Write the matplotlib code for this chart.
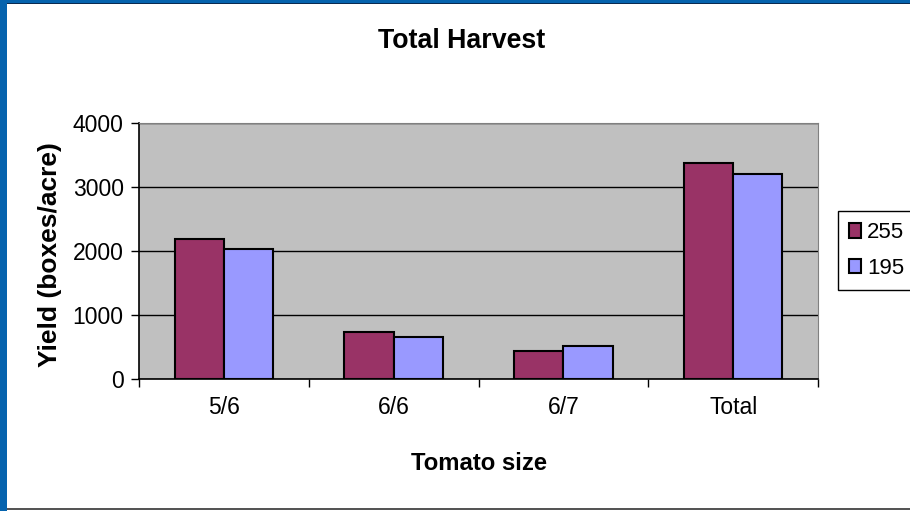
import numpy as np
import matplotlib
matplotlib.use("Agg")
import matplotlib.pyplot as plt
from matplotlib.patches import Rectangle

plt.rcParams['font.family'] = ['Liberation Sans', 'DejaVu Sans']

sizes = ['5/6', '6/6', '6/7', 'Total']
yield_255 = [2190, 730, 445, 3370]
yield_195 = [2030, 660, 510, 3200]
series_names = ['255', '195']

fig = plt.figure(figsize=(9.10, 5.11), dpi=100)
fig.patch.set_facecolor('white')

# slide-style frame: blue strips on the left and top, grey line at the bottom
fig.patches.append(Rectangle((0, 0), 7 / 910, 1, transform=fig.transFigure,
                             facecolor='#0563AE', edgecolor='none', zorder=0))
fig.patches.append(Rectangle((0, 1 - 3 / 511), 1, 3 / 511, transform=fig.transFigure,
                             facecolor='#0563AE', edgecolor='none', zorder=0))
fig.patches.append(Rectangle((7 / 910, 1 - 4 / 511), 1, 1 / 511, transform=fig.transFigure,
                             facecolor='#0A2A50', edgecolor='none', zorder=0))
fig.patches.append(Rectangle((7 / 910, 1 / 511), 1, 2 / 511, transform=fig.transFigure,
                             facecolor='#555555', edgecolor='none', zorder=0))

ax = fig.add_axes([139 / 910, 1 - 379 / 511, (818 - 139) / 910, (379 - 123) / 511])
ax.set_facecolor('#C0C0C0')

x = np.arange(len(sizes))
w = 0.29
ax.bar(x - w / 2, yield_255, w, color='#993366', edgecolor='black', linewidth=1.5,
       label=series_names[0], zorder=3)
ax.bar(x + w / 2, yield_195, w, color='#9999FF', edgecolor='black', linewidth=1.5,
       label=series_names[1], zorder=3)

ax.set_xlim(-0.5, len(sizes) - 0.5)
ax.set_ylim(0, 4000)
ax.set_yticks([0, 1000, 2000, 3000, 4000])
ax.yaxis.grid(True, color='black', linewidth=1)
ax.set_axisbelow(True)

ax.set_xticks(x)
ax.set_xticklabels(sizes)
ax.set_xticks(np.arange(-0.5, len(sizes)), minor=True)
ax.tick_params(axis='x', which='major', length=0, pad=12, labelsize=16.5)
ax.tick_params(axis='x', which='minor', length=6, width=1, direction='out')
ax.tick_params(axis='y', length=6, width=1, direction='out', pad=5, labelsize=16.5)

for side in ['top', 'right']:
    ax.spines[side].set_color('#808080')
for side in ['left', 'bottom']:
    ax.spines[side].set_color('black')
    ax.spines[side].set_linewidth(1.2)

fig.text(462 / 910, 1 - 41 / 511, 'Total Harvest', ha='center', va='center',
         fontsize=19.3, fontweight='bold')
fig.text(479 / 910, 1 - 463 / 511, 'Tomato size', ha='center', va='center',
         fontsize=17.2, fontweight='bold')
fig.text(50 / 910, 1 - 255 / 511, 'Yield (boxes/acre)', ha='center', va='center',
         rotation=90, fontsize=19, fontweight='bold')

leg = ax.legend(loc='center left', bbox_to_anchor=(838 / 910, 1 - 250.5 / 511),
                bbox_transform=fig.transFigure, fancybox=False, framealpha=1,
                edgecolor='black', fontsize=16, handlelength=0.55, handleheight=0.6,
                handletextpad=0.25, borderpad=0.5, labelspacing=0.65, borderaxespad=0)
leg.get_frame().set_linewidth(1)

fig.savefig('out.png', dpi=100)
